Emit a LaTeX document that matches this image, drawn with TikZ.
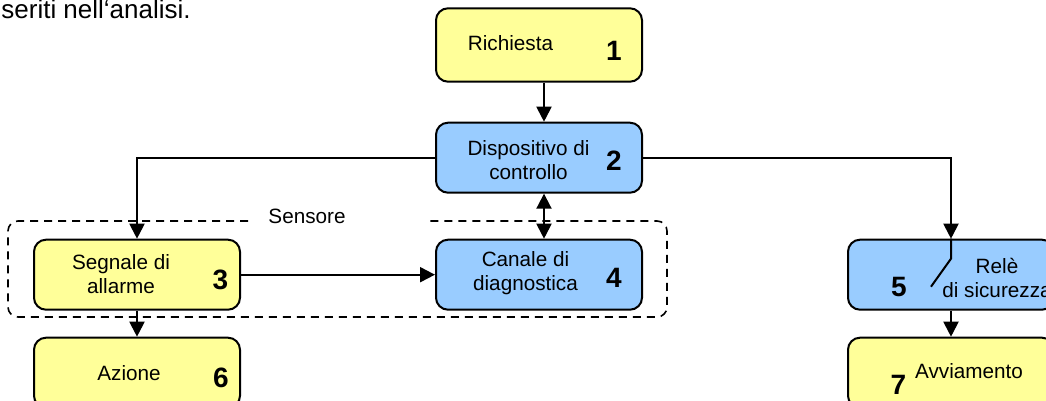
\documentclass[tikz,border=0pt]{standalone}
\usepackage{fontspec}
\setmainfont{Liberation Sans}
\setsansfont{Liberation Sans}
\usepackage{tikz}
\usetikzlibrary{arrows.meta, positioning}
\usepackage{xcolor}
\definecolor{boxYellow}{HTML}{FFFF99}
\definecolor{boxBlue}{HTML}{99CCFF}
\tikzset{
    font=\sffamily\fontsize{10.35}{12}\selectfont,
    >={Triangle[length=7.5pt, width=7.5pt]},
    % Colors
    compYellow/.style={draw=black, fill=boxYellow},
    compBlue/.style={draw=black, fill=boxBlue},
    % Shapes
    comp/.style={rectangle, line width=1pt, rounded corners=6pt,
                 minimum width=103pt, minimum height=35pt, compYellow},
    group/.style={draw=black, dash pattern=on 4pt off 3pt, line width=0.8pt, rounded corners=5pt},
    % Flow & Labels
    flow/.style={->, line width=1pt, black},
    lbl/.style={inner sep=0pt, align=center},
    num/.style={inner sep=0pt, font=\sffamily\bfseries\fontsize{14}{16}\selectfont}
}

\begin{document}
\begin{tikzpicture}[x=0.5pt, y=-0.5pt]
\useasboundingbox (0,0) rectangle (1046,401);

\node[anchor=base west, inner sep=0pt, font=\sffamily\fontsize{13}{15}\selectfont] (title) at (1,19) {seriti nell‘analisi.};

% Catena principale
\node[comp, minimum height=36.7pt] (req) at (539,45) {};
\node[comp, compBlue, below=19.5pt of req] (ctrl) {};
\node[comp, compBlue, below=22.5pt of ctrl] (diag) {};
\node[comp, left=97pt of diag] (sig) {};
\node[comp, below=13pt of sig] (act) {};
\node[comp, compBlue, right=102pt of diag] (relay) {};
\node[comp, below=13pt of relay] (start) {};

\node[lbl] (reqT) at ([shift={(-28.5,-2)}]req) {Richiesta};
\node[num] (n1) at ([shift={(75,5.5)}]req) {1};
\node[lbl] (ctrlT) at ([shift={(-10.5,2.8)}]ctrl) {Dispositivo di\\controllo};
\node[num] (n2) at ([shift={(75,3.3)}]ctrl) {2};
\node[lbl] (diagT) at ([shift={(-13.5,-1.2)}]diag) {Canale di\\diagnostica};
\node[num] (n4) at ([shift={(75,3.3)}]diag) {4};
\node[lbl] (sigT) at ([shift={(-16,-0.7)}]sig) {Segnale di\\allarme};
\node[num] (n3) at ([shift={(83.5,5.3)}]sig) {3};
\node[lbl] (actT) at ([shift={(-8,0.3)}]act) {Azione};
\node[num] (n6) at ([shift={(84,5.3)}]act) {6};
\node[lbl] (relayT) at ([shift={(46,2.8)}]relay) {Relè\\di sicurezza};
\node[num] (n5) at ([shift={(-52,12.3)}]relay) {5};
\node[lbl] (startT) at ([shift={(18,-1.7)}]start) {Avviamento};
\node[num] (n7) at ([shift={(-52.5,12.3)}]start) {7};

\draw[flow] ([xshift=2.5pt]req.south) -- ([xshift=2.5pt]ctrl.north);
\draw[flow, <->] ([xshift=2.5pt]ctrl.south) -- ([xshift=2.5pt]diag.north);
\draw[flow] (ctrl.west) -| (sig.north);
\draw[flow] (ctrl.east) -| (relay.north);
\draw[flow] (sig.east) -- (diag.west);
\draw[flow] (sig.south) -- (act.north);
\draw[flow] (relay.south) -- (start.north);
\draw[line width=1pt] (relay.north) -- ++(0,20) -- ++(-20,28);

% Sensore
\draw[group] (248,221) -- (8,221) -- (8,317) -- (667,317) -- (667,221) -- (425,221);
\node[lbl] (sens) at (307,216) {Sensore};

\end{tikzpicture}
\end{document}
